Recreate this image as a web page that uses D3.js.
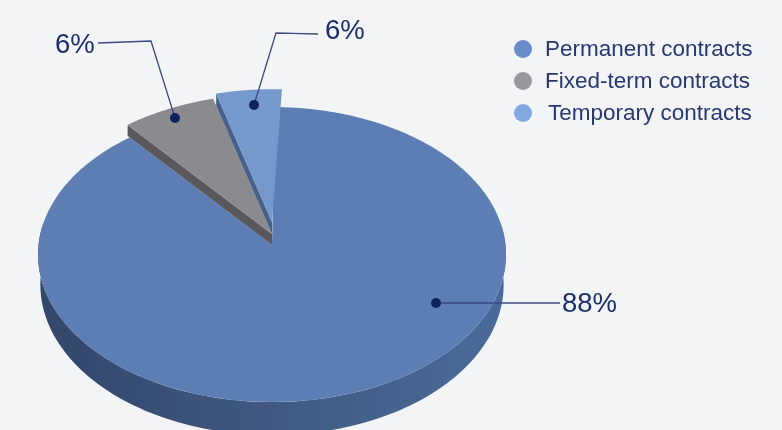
<!DOCTYPE html>
<html><head><meta charset="utf-8">
<script src="https://cdn.jsdelivr.net/npm/d3@7"></script>
<style>html,body{margin:0;padding:0;background:#f2f4f6;overflow:hidden}svg{display:block}text{font-family:"Liberation Sans",Arial,sans-serif}</style>
</head><body><svg id="c" width="782" height="430"></svg>
<script>
const categories = ["Permanent contracts", "Fixed-term contracts", "Temporary contracts"];
const labelValues = [88, 6, 6];
const sliceShares = [88.2, 6.8, 5.0];

const svg = d3.select("#c");
const W = 782, H = 430, bg = "#f2f4f6";
const cx = 272, apexY = 245, R = 233.5, S = 146.9, k = 0.0644;
const wallDrop = 30, wallScale = 0.99, wallGrow = 0.02;
const toRad = d => d * Math.PI / 180;

svg.append("rect").attr("width", W).attr("height", H).attr("fill", bg);
const defs = svg.append("defs");
const grad = defs.append("linearGradient").attr("id", "wall");
[["0%", "#33466a"], ["45%", "#3f577f"], ["100%", "#4b6b9a"]].forEach(([o, c]) =>
  grad.append("stop").attr("offset", o).attr("stop-color", c));
defs.append("filter").attr("id", "soft").append("feGaussianBlur").attr("stdDeviation", 0.45);
defs.append("clipPath").attr("id", "legendClip").append("rect")
  .attr("x", 480).attr("y", 0).attr("width", 272).attr("height", H);

// perspective projection of the pie plane (angle clockwise from top, radius 0..1)
const project = (a, r = 1, lift = 0) => {
  const u = r * Math.sin(a), v = r * Math.cos(a), w = 1 + k * v;
  return [cx + R * u / w, apexY - lift - S * v / w];
};
const pie = d3.pie().sort(null).value(d => d).startAngle(toRad(2.7)).endAngle(toRad(362.7));
const arcs = pie(sliceShares);
const line = d3.line();
const arcPts = (a0, a1, r, lift) => d3.range(0, 121).map(i => project(a0 + (a1 - a0) * i / 120, r, lift));

const root = svg.append("g").attr("filter", "url(#soft)");

// main slice: side wall, then top
const sideTop = arcPts(toRad(82), toRad(278), 1, 0);
const sideBottom = sideTop.map(([x, y]) =>
  [cx + (x - cx) * wallScale, y + wallDrop + (y - apexY) * wallGrow]).reverse();
root.append("path").attr("d", line(sideTop.concat(sideBottom)) + "Z").attr("fill", "url(#wall)");
const main = arcs[0];
// the straight edge tucks slightly under the lifted light slice so no seam shows
const tuck = toRad(2);
root.append("path").attr("fill", "#5b7eb5")
  .attr("d", line([project(0, 0)].concat(
    arcPts(main.startAngle - tuck, main.startAngle, 1, 0),
    arcPts(main.startAngle, main.endAngle, 1, 0))) + "Z");

// exploded slices
const style = [null,
  { top: "#8b8a8e", side: "#5a595d", r: 1.015, lift: 11, depth: 11 },
  { top: "#7599cd", side: "#46608a", r: 0.96, lift: 23, depth: 12 }];
arcs.forEach((d, i) => {
  if (!i) return;
  const s = style[i];
  const a0 = d.startAngle, a1 = d.endAngle;
  const apex = project(0, 0, s.lift), tip = project(a0, s.r, s.lift);   // left edge faces the viewer
  root.append("path").attr("fill", s.side).attr("d", line([
    apex, tip, [tip[0], tip[1] + s.depth], [apex[0], apex[1] + s.depth]]) + "Z");
  root.append("path").attr("fill", s.top)
    .attr("d", line([apex].concat(arcPts(a0, a1, s.r, s.lift))) + "Z");
});

// leaders and labels
const ink = "#10215f", leader = "#3c4b82", labelInk = "#1f2f6b";
const callouts = [
  { i: 0, pts: [[436, 303], [560, 303]], tx: 562, ty: 312 },
  { i: 1, pts: [[175, 118], [151, 41], [98, 43]], tx: 55, ty: 53 },
  { i: 2, pts: [[254, 105], [276, 33], [318, 34]], tx: 325, ty: 39 }
];
callouts.forEach(c => {
  root.append("path").attr("d", line(c.pts)).attr("fill", "none")
    .attr("stroke", leader).attr("stroke-width", 1.3);
  root.append("circle").attr("cx", c.pts[0][0]).attr("cy", c.pts[0][1]).attr("r", 5).attr("fill", ink);
  root.append("text").attr("x", c.tx).attr("y", c.ty).attr("font-size", 27.5)
    .attr("fill", labelInk).text(labelValues[c.i] + "%");
});

// legend
const legendY = d3.scalePoint().domain(categories).range([49, 113]);
const legendColors = ["#678dca", "#98989c", "#82a8e0"];
const legendX = [545, 545, 548], legendBase = [56, 88, 120];
const lg = root.append("g").attr("clip-path", "url(#legendClip)");
categories.forEach((c, i) => {
  lg.append("circle").attr("cx", 523).attr("cy", legendY(c)).attr("r", 9).attr("fill", legendColors[i]);
  lg.append("text").attr("x", legendX[i]).attr("y", legendBase[i]).attr("font-size", 22.5)
    .attr("fill", "#27376f").text(c);
});
</script></body></html>
